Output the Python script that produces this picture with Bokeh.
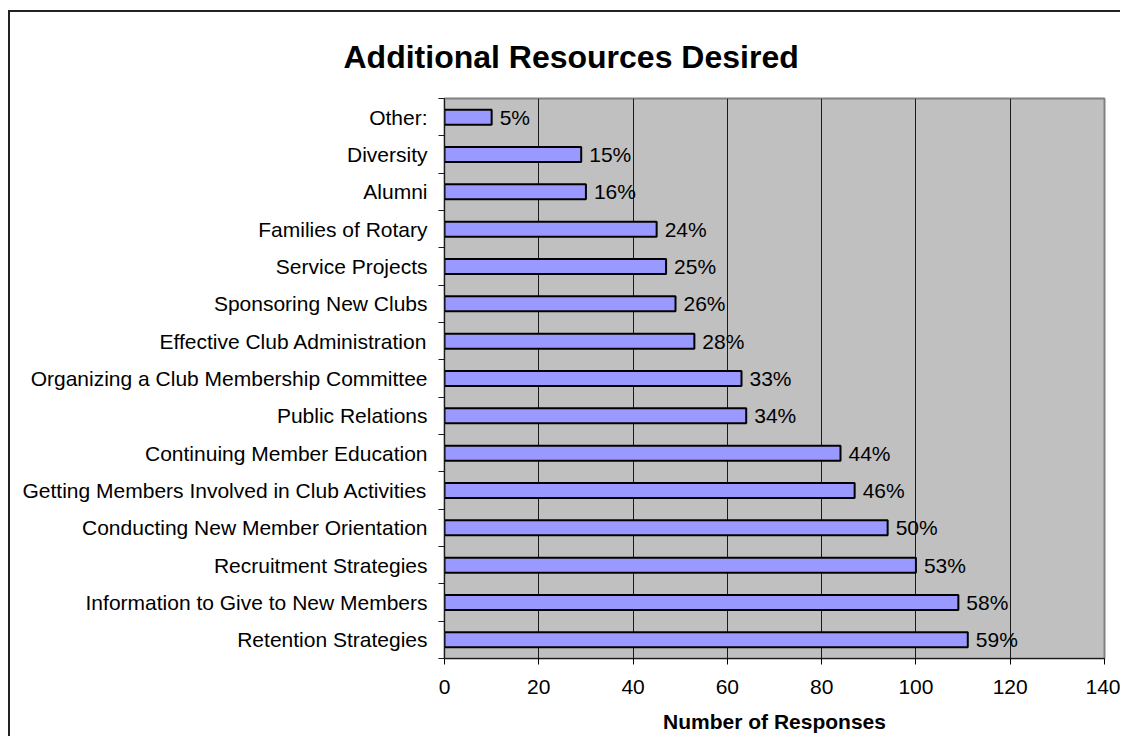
from bokeh.plotting import figure
from bokeh.models import Range1d, FixedTicker, ColumnDataSource
from bokeh.core.properties import value
from bokeh.embed import file_html
from bokeh.resources import INLINE

# ---- data (bottom to top) ----
categories = [
    "Retention Strategies",
    "Information to Give to New Members",
    "Recruitment Strategies",
    "Conducting New Member Orientation",
    "Getting Members Involved in Club Activities",
    "Continuing Member Education",
    "Public Relations",
    "Organizing a Club Membership Committee",
    "Effective Club Administration",
    "Sponsoring New Clubs",
    "Service Projects",
    "Families of Rotary",
    "Alumni",
    "Diversity",
    "Other:",
]
responses = [111, 109, 100, 94, 87, 84, 64, 63, 53, 49, 47, 45, 30, 29, 10]
pct_labels = ["59%", "58%", "53%", "50%", "46%", "44%", "34%", "33%",
              "28%", "26%", "25%", "24%", "16%", "15%", "5%"]
x_ticks = [0, 20, 40, 60, 80, 100, 120, 140]
title_text = "Additional Resources Desired"
x_title = "Number of Responses"

FONT = "Liberation Sans"
n = len(categories)
ypos = list(range(n))

src = ColumnDataSource(dict(y=ypos, x=responses, pct=pct_labels, cat=categories))

p = figure(
    width=1112, height=726,
    x_range=Range1d(x_ticks[0], x_ticks[-1]),
    y_range=Range1d(-0.5, n - 0.5),
    output_backend="svg", toolbar_location=None,
    min_border_left=434, min_border_right=18,
    min_border_top=86, min_border_bottom=80,
)
p.styles = {"border-left": "2px solid #222222", "border-top": "2px solid #222222",
            "border-right": "none", "border-bottom": "none",
            "margin-left": "8px", "margin-top": "10px"}

p.background_fill_color = "#C0C0C0"
p.border_fill_color = "white"
p.outline_line_color = "#808080"
p.outline_line_width = 2

# title
p.title.text = title_text
p.title.align = "left"
p.title.offset = -101
p.title.text_font = FONT
p.title.text_font_size = "32px"
p.title.text_font_style = "bold"
p.title.text_color = "black"
p.title.standoff = 48

# grid
p.ygrid.visible = False
p.xgrid.ticker = FixedTicker(ticks=x_ticks)
p.xgrid.grid_line_color = "#1a1a1a"
p.xgrid.grid_line_width = 1

# x axis
xa = p.xaxis[0]
xa.ticker = FixedTicker(ticks=x_ticks)
xa.axis_line_color = "#1a1a1a"
xa.major_tick_out = 6
xa.major_tick_in = 0
xa.minor_tick_out = 0
xa.minor_tick_in = 0
xa.major_label_standoff = 15
xa.major_label_text_font = FONT
xa.major_label_text_font_size = "21px"
xa.major_label_text_color = "black"
xa.axis_label = x_title
xa.axis_label_text_font = FONT
xa.axis_label_text_font_size = "21px"
xa.axis_label_text_font_style = "bold"
xa.axis_label_text_color = "black"
xa.axis_label_standoff = 13

# y axis (labels at bar centres, tick marks between categories)
ya = p.yaxis[0]
ya.ticker = FixedTicker(ticks=ypos, minor_ticks=[i - 0.5 for i in range(n + 1)])
ya.major_label_overrides = {i: c for i, c in zip(ypos, categories)}
ya.axis_line_color = "#1a1a1a"
ya.major_tick_out = 0
ya.major_tick_in = 0
ya.minor_tick_out = 6
ya.minor_tick_in = 0
ya.minor_tick_line_color = "#1a1a1a"
ya.major_label_standoff = 11
ya.major_label_text_font = FONT
ya.major_label_text_font_size = "21px"
ya.major_label_text_color = "black"

# bars
p.hbar(y="y", right="x", left=0, height=0.4, source=src,
       fill_color="#9999FF", line_color="black", line_width=2)

# value labels
p.text(x="x", y="y", text="pct", source=src, x_offset=8,
       text_align="left", text_baseline="middle",
       text_font=value(FONT), text_font_size="21px", text_color="black")

open("out.html", "w").write(file_html(p, INLINE))
